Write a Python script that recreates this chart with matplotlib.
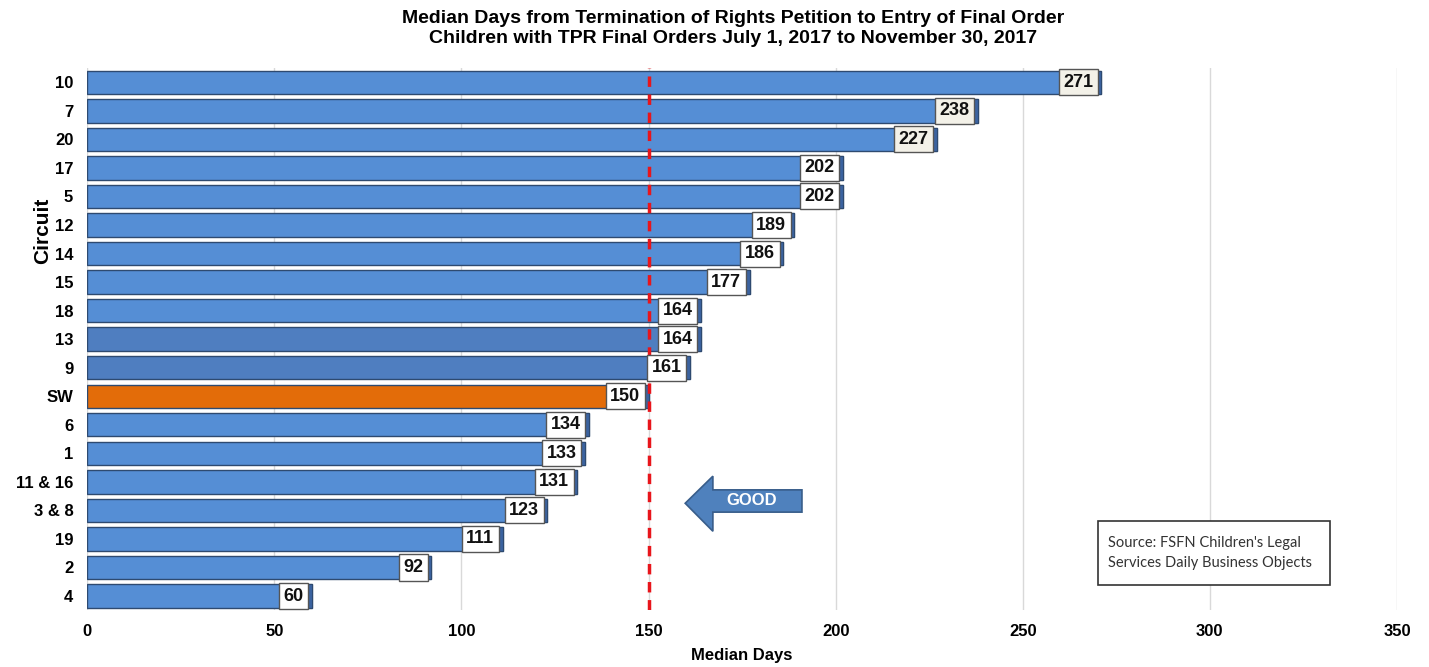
import matplotlib
matplotlib.use('Agg')
import matplotlib.pyplot as plt
from matplotlib.patches import Polygon, Rectangle

circuits = ['10', '7', '20', '17', '5', '12', '14', '15', '18', '13', '9',
            'SW', '6', '1', '11 & 16', '3 & 8', '19', '2', '4']
median_days = [271, 238, 227, 202, 202, 189, 186, 177, 164, 164, 161,
               150, 134, 133, 131, 123, 111, 92, 60]
statewide = 150

blue = '#558ED5'
darker_blue = '#4F7EC0'
orange = '#E36C09'
colors = []
for c in circuits:
    if c == 'SW':
        colors.append(orange)
    elif c in ('13', '9'):
        colors.append(darker_blue)
    else:
        colors.append(blue)

plt.rcParams['font.family'] = ['Liberation Sans', 'DejaVu Sans']

fig = plt.figure(figsize=(14.29, 6.67), dpi=100)
ax = fig.add_axes([0.061, 0.085, 0.9166, 0.813])

y = list(range(len(circuits)))[::-1]
ax.barh(y, median_days, height=0.82, color=colors, edgecolor='#2E4A70',
        linewidth=1.0, zorder=2)
# thin shaded end cap on each bar
ax.barh(y, [1.2] * len(median_days), left=[v - 1.2 for v in median_days],
        height=0.82, color='#3B63A0', edgecolor='#2E4A70', linewidth=0.8, zorder=3)

for yi, v in zip(y, median_days):
    face = '#F3F1E8' if v > 210 else 'white'
    ax.text(v - 2.2, yi, str(v), ha='right', va='center', fontsize=13,
            fontweight='bold', color='#111111', zorder=5,
            bbox=dict(boxstyle='square,pad=0.25', fc=face, ec='#555555', lw=1.0))

ax.axvline(statewide, color='#E8151B', linestyle=(0, (3, 2.2)), linewidth=2.5, zorder=4)

ax.set_xlim(0, 350)
ax.set_ylim(-0.5, len(circuits) - 0.5)
ax.set_xticks(range(0, 351, 50))
ax.set_yticks(y)
ax.set_yticklabels(circuits)
ax.tick_params(length=0, labelsize=12, pad=10)
for lbl in ax.get_xticklabels() + ax.get_yticklabels():
    lbl.set_fontweight('bold')
ax.grid(axis='x', color='#D9D9D9', linewidth=1.0, zorder=0)
ax.set_axisbelow(True)
for s in ax.spines.values():
    s.set_visible(False)

ax.set_xlabel('Median Days', fontsize=12, fontweight='bold', labelpad=6)
ax.set_ylabel('Circuit', fontsize=15, fontweight='bold')
ax.yaxis.set_label_coords(-0.027, 0.70)

fig.suptitle('Median Days from Termination of Rights Petition to Entry of Final Order\n'
             'Children with TPR Final Orders July 1, 2017 to November 30, 2017',
             x=0.513, y=0.985, fontsize=14, fontweight='bold', linespacing=1.2)

# "GOOD" arrow pointing left
arrow = [(159.8, 3.25), (167.2, 4.2), (167.2, 3.72), (191.0, 3.72),
         (191.0, 2.94), (167.2, 2.94), (167.2, 2.27)]
ax.add_patch(Polygon(arrow, closed=True, fc='#4F81BD', ec='#385D8A', lw=1.2, zorder=4))
ax.text(177.5, 3.33, 'GOOD', ha='center', va='center', color='white',
        fontsize=12, fontweight='bold', zorder=5)

# source note
fig.patches.append(Rectangle((1098 / 1429, 1 - 585 / 667), 232 / 1429, 64 / 667,
                             transform=fig.transFigure, fc='white', ec='#333333', lw=1.2))
fig.text(1108 / 1429, 1 - 553 / 667,
         "Source: FSFN Children's Legal\nServices Daily Business Objects",
         ha='left', va='center', fontsize=10.5, family='Lato',
         color='#333333', linespacing=1.6)

fig.savefig('out.png', dpi=100)
